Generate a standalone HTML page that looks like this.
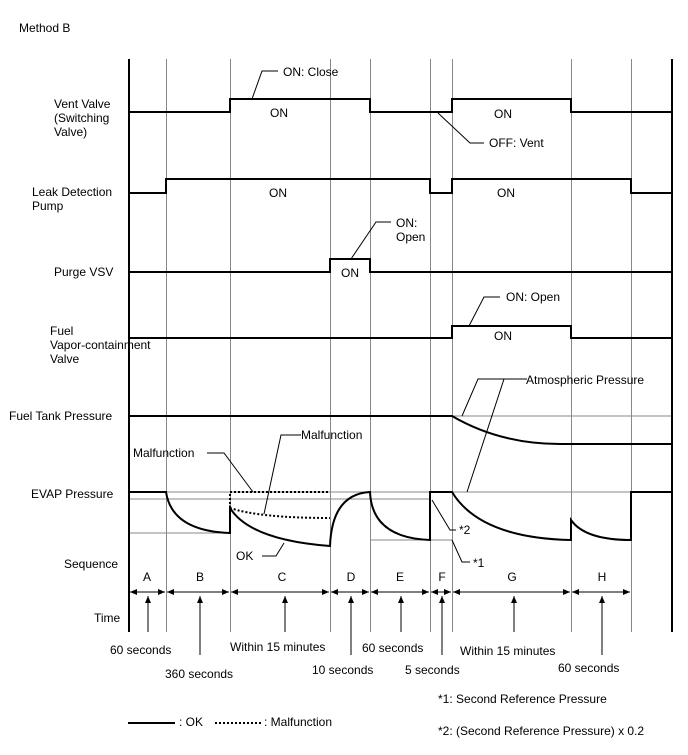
<!DOCTYPE html>
<html><head><meta charset="utf-8"><style>
html,body{margin:0;padding:0;background:#fff}
svg{display:block}
text{font-family:"Liberation Sans",Arial,sans-serif;font-size:12px;fill:#000}
</style></head><body>
<svg width="688" height="755" viewBox="0 0 688 755" xmlns="http://www.w3.org/2000/svg">
<defs>
<marker id="ah" markerWidth="8" markerHeight="8" refX="7" refY="4" orient="auto" markerUnits="userSpaceOnUse">
<path d="M0,1 L7,4 L0,7 z" fill="#000"/></marker>
</defs>
<text x="19" y="32">Method B</text>
<!-- vertical grid lines -->
<g stroke="#888" stroke-width="1">
<line x1="166.5" y1="59" x2="166.5" y2="632"/>
<line x1="230.5" y1="59" x2="230.5" y2="632"/>
<line x1="330.5" y1="59" x2="330.5" y2="632"/>
<line x1="370.5" y1="59" x2="370.5" y2="632"/>
<line x1="430.5" y1="59" x2="430.5" y2="632"/>
<line x1="452.5" y1="59" x2="452.5" y2="632"/>
<line x1="571.5" y1="59" x2="571.5" y2="632"/>
<line x1="631.5" y1="59" x2="631.5" y2="632"/>
<!-- reference lines -->
<line x1="452" y1="416" x2="672" y2="416"/>
<line x1="128" y1="492" x2="672" y2="492"/>
<line x1="128" y1="499" x2="430" y2="499"/>
<line x1="128" y1="533" x2="230" y2="533"/>
<line x1="370" y1="540" x2="452" y2="540"/>
</g>
<g stroke="#000" stroke-width="2">
<line x1="129" y1="59" x2="129" y2="632"/>
<line x1="672" y1="59" x2="672" y2="632"/>
</g>
<!-- signals -->
<g fill="none" stroke="#000" stroke-width="2">
<polyline points="128,112 230,112 230,99 370,99 370,112 452,112 452,99 571,99 571,112 672,112"/>
<polyline points="128,193 166,193 166,179 430,179 430,193 452,193 452,179 631,179 631,193 672,193"/>
<polyline points="128,272 330,272 330,259 370,259 370,272 672,272"/>
<polyline points="128,338 452,338 452,326 571,326 571,338 672,338"/>
<path d="M128,416 L452,416 Q500,444 560,444 L672,444"/>
<path d="M128,492 L166,492 Q172,531 230,533 L230,508 Q250,540 330,546 Q332,494 370,492 Q372,538 430,540 L430,492 L452,492 Q480,538 571,540 L571,520 Q585,540 631,540 L631,492 L672,492"/>
</g>
<g fill="none" stroke="#000" stroke-width="2" stroke-dasharray="2,2">
<polyline points="230,508 230,492 330,492"/>
<path d="M230,508 Q260,518 330,518"/>
</g>
<!-- callout leaders -->
<g fill="none" stroke="#000" stroke-width="1">
<polyline points="278,71 262,71 252,99"/>
<polyline points="484,143 470,143 438,113"/>
<polyline points="391,222 376,222 351,259"/>
<polyline points="500,297 484,297 469,326"/>
<polyline points="527,379 478,379 462,416"/>
<line x1="504" y1="379" x2="467" y2="492"/>
<polyline points="301,435 281,435 264,514"/>
<polyline points="207,453 224,453 253,492"/>
<polyline points="262,556 276,556 284,543"/>
<polyline points="432,500 450,530 456,530"/>
<polyline points="452,540 462,562 470,562"/>
</g>
<!-- left labels -->
<text x="54" y="108">Vent Valve</text>
<text x="54" y="122">(Switching</text>
<text x="54" y="136">Valve)</text>
<text x="32" y="196">Leak Detection</text>
<text x="32" y="210">Pump</text>
<text x="54" y="276">Purge VSV</text>
<text x="50" y="335">Fuel</text>
<text x="50" y="349">Vapor-containment</text>
<text x="50" y="363">Valve</text>
<text x="9" y="420">Fuel Tank Pressure</text>
<text x="31" y="498">EVAP Pressure</text>
<text x="64" y="568">Sequence</text>
<text x="94" y="622">Time</text>
<!-- ON labels -->
<text x="270" y="117">ON</text>
<text x="494" y="118">ON</text>
<text x="269" y="197">ON</text>
<text x="497" y="197">ON</text>
<text x="341" y="277">ON</text>
<text x="494" y="340">ON</text>
<text x="283" y="76">ON: Close</text>
<text x="489" y="147">OFF: Vent</text>
<text x="396" y="227">ON:</text>
<text x="396" y="241">Open</text>
<text x="506" y="301">ON: Open</text>
<text x="526" y="384">Atmospheric Pressure</text>
<text x="301" y="439">Malfunction</text>
<text x="133" y="457">Malfunction</text>
<text x="236" y="560">OK</text>
<text x="459" y="534">*2</text>
<text x="473" y="567">*1</text>
<!-- sequence letters -->
<g text-anchor="middle">
<text x="147" y="581">A</text><text x="200" y="581">B</text><text x="282" y="581">C</text>
<text x="351" y="581">D</text><text x="400" y="581">E</text><text x="442" y="581">F</text>
<text x="512" y="581">G</text><text x="602" y="581">H</text>
</g>
<!-- sequence arrows -->
<g stroke="#000" stroke-width="1" fill="none">
<line x1="148" y1="592" x2="130" y2="592" marker-end="url(#ah)"/><line x1="148" y1="592" x2="165" y2="592" marker-end="url(#ah)"/>
<line x1="198" y1="592" x2="167" y2="592" marker-end="url(#ah)"/><line x1="198" y1="592" x2="229" y2="592" marker-end="url(#ah)"/>
<line x1="280" y1="592" x2="231" y2="592" marker-end="url(#ah)"/><line x1="280" y1="592" x2="329" y2="592" marker-end="url(#ah)"/>
<line x1="350" y1="592" x2="331" y2="592" marker-end="url(#ah)"/><line x1="350" y1="592" x2="369" y2="592" marker-end="url(#ah)"/>
<line x1="400" y1="592" x2="371" y2="592" marker-end="url(#ah)"/><line x1="400" y1="592" x2="429" y2="592" marker-end="url(#ah)"/>
<line x1="441" y1="592" x2="431" y2="592" marker-end="url(#ah)"/><line x1="441" y1="592" x2="451" y2="592" marker-end="url(#ah)"/>
<line x1="512" y1="592" x2="453" y2="592" marker-end="url(#ah)"/><line x1="512" y1="592" x2="570" y2="592" marker-end="url(#ah)"/>
<line x1="601" y1="592" x2="572" y2="592" marker-end="url(#ah)"/><line x1="601" y1="592" x2="630" y2="592" marker-end="url(#ah)"/>
<!-- up arrows -->
<line x1="148" y1="632" x2="148" y2="596" marker-end="url(#ah)"/>
<line x1="200" y1="655" x2="200" y2="596" marker-end="url(#ah)"/>
<line x1="285" y1="632" x2="285" y2="596" marker-end="url(#ah)"/>
<line x1="351" y1="655" x2="351" y2="596" marker-end="url(#ah)"/>
<line x1="401" y1="632" x2="401" y2="596" marker-end="url(#ah)"/>
<line x1="442" y1="655" x2="442" y2="596" marker-end="url(#ah)"/>
<line x1="514" y1="632" x2="514" y2="596" marker-end="url(#ah)"/>
<line x1="602" y1="655" x2="602" y2="596" marker-end="url(#ah)"/>
</g>
<text x="110" y="654">60 seconds</text>
<text x="165" y="678">360 seconds</text>
<text x="230" y="651">Within 15 minutes</text>
<text x="312" y="674">10 seconds</text>
<text x="362" y="652">60 seconds</text>
<text x="405" y="674">5 seconds</text>
<text x="460" y="655">Within 15 minutes</text>
<text x="558" y="672">60 seconds</text>
<text x="438" y="703">*1: Second Reference Pressure</text>
<text x="438" y="735">*2: (Second Reference Pressure) x 0.2</text>
<line x1="128" y1="723" x2="175" y2="723" stroke="#000" stroke-width="2"/>
<text x="179" y="726">: OK</text>
<line x1="215" y1="723" x2="262" y2="723" stroke="#000" stroke-width="2" stroke-dasharray="2,2"/>
<text x="264" y="726">: Malfunction</text>
</svg>
</body></html>
